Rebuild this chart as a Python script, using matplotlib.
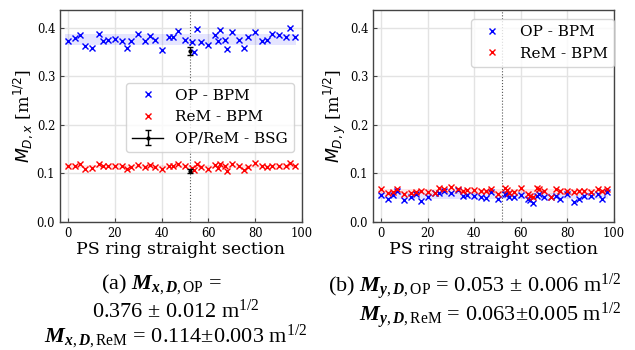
import matplotlib
matplotlib.use("Agg")
import matplotlib.pyplot as plt
import numpy as np

# BPM positions (straight section number)
sections = [0, 3, 5, 7, 10, 13, 15, 17, 20, 23, 25, 27, 30, 33, 35, 37, 40, 43, 45, 47,
            50, 53, 54, 55, 57, 60, 63, 64, 65, 67, 68, 70, 73, 75, 77, 80, 83, 85, 87,
            90, 93, 95, 97]

# horizontal dispersion invariant
op_x = [0.373, 0.379, 0.385, 0.362, 0.359, 0.388, 0.373, 0.376, 0.377, 0.373, 0.359,
        0.373, 0.387, 0.373, 0.384, 0.376, 0.355, 0.381, 0.381, 0.394, 0.376, 0.371,
        0.351, 0.397, 0.371, 0.364, 0.386, 0.373, 0.395, 0.376, 0.356, 0.391, 0.376,
        0.359, 0.381, 0.391, 0.374, 0.376, 0.388, 0.386, 0.381, 0.399, 0.382]
rem_x = [0.116, 0.116, 0.119, 0.110, 0.112, 0.119, 0.115, 0.115, 0.115, 0.116, 0.110,
         0.114, 0.117, 0.113, 0.117, 0.114, 0.109, 0.116, 0.116, 0.119, 0.115, 0.112,
         0.107, 0.120, 0.114, 0.110, 0.118, 0.112, 0.120, 0.116, 0.106, 0.119, 0.116,
         0.108, 0.114, 0.121, 0.115, 0.113, 0.116, 0.116, 0.115, 0.121, 0.116]

# vertical dispersion invariant
op_y = [0.055, 0.048, 0.055, 0.063, 0.045, 0.051, 0.057, 0.043, 0.051, 0.060, 0.060,
        0.063, 0.059, 0.066, 0.053, 0.055, 0.053, 0.052, 0.050, 0.061, 0.048, 0.058,
        0.057, 0.051, 0.052, 0.055, 0.048, 0.046, 0.040, 0.053, 0.057, 0.052, 0.052,
        0.054, 0.048, 0.058, 0.041, 0.048, 0.053, 0.053, 0.058, 0.048, 0.062]
rem_y = [0.067, 0.060, 0.061, 0.067, 0.058, 0.060, 0.061, 0.063, 0.061, 0.060, 0.070,
         0.068, 0.073, 0.069, 0.063, 0.065, 0.065, 0.063, 0.063, 0.067, 0.058, 0.070,
         0.066, 0.059, 0.062, 0.070, 0.058, 0.053, 0.051, 0.070, 0.067, 0.064, 0.051,
         0.067, 0.063, 0.063, 0.061, 0.063, 0.064, 0.061, 0.068, 0.063, 0.067]

# mean +- std bands
mean_x = {"OP": (0.376, 0.012), "ReM": (0.114, 0.003)}
mean_y = {"OP": (0.053, 0.006), "ReM": (0.063, 0.005)}

# BSG measurement
bsg_pos = 52
bsg_val = [0.3525, 0.106]
bsg_err = [0.0085, 0.004]

plt.rcParams["font.family"] = "DejaVu Serif"
plt.rcParams["mathtext.fontset"] = "dejavusans"
plt.rcParams["mathtext.rm"] = "Liberation Serif"
plt.rcParams["mathtext.it"] = "Liberation Serif:italic"
plt.rcParams["mathtext.bf"] = "Liberation Serif:italic:bold"

fig = plt.figure(figsize=(6.35, 3.5), dpi=100)
ax1 = fig.add_axes([60 / 635, 128 / 350, 242 / 635, 212 / 350])
ax2 = fig.add_axes([373 / 635, 128 / 350, 241 / 635, 212 / 350])

band_x = [-1.5, 97.5]


def style(ax, ylab):
    ax.set_xlim(-3.5, 100)
    ax.set_ylim(0, 0.437)
    ax.set_xticks([0, 20, 40, 60, 80, 100])
    ax.set_yticks([0.0, 0.1, 0.2, 0.3, 0.4])
    ax.grid(True, color="#e3e3e3", linewidth=1.0)
    ax.set_axisbelow(True)
    ax.tick_params(direction="in", labelsize=8.3, length=3, color="#444444")
    for s in ax.spines.values():
        s.set_color("#444444")
        s.set_linewidth(1.0)
    ax.set_xlabel("PS ring straight section", fontsize=12.5, labelpad=1)
    ax.set_ylabel(ylab, fontsize=12.5, labelpad=1)
    ax.axvline(bsg_pos, color="#555555", linestyle=":", linewidth=0.8, zorder=1)


# left: horizontal
ax1.fill_between(band_x, mean_x["OP"][0] - mean_x["OP"][1], mean_x["OP"][0] + mean_x["OP"][1],
                 color="blue", alpha=0.1, linewidth=0)
ax1.fill_between(band_x, mean_x["ReM"][0] - mean_x["ReM"][1], mean_x["ReM"][0] + mean_x["ReM"][1],
                 color="red", alpha=0.1, linewidth=0)
ax1.plot(sections, op_x, "x", color="blue", ms=4, mew=1, label="OP - BPM")
ax1.plot(sections, rem_x, "x", color="red", ms=4, mew=1, label="ReM - BPM")
for i in range(len(bsg_val)):
    ax1.errorbar([bsg_pos], [bsg_val[i]], yerr=[bsg_err[i]], marker=".", color="black", ms=4,
                 capsize=2, elinewidth=1, linewidth=1,
                 label="OP/ReM - BSG" if i == 0 else None, zorder=5)
style(ax1, r"$M_{D,x}$ [m$^{1/2}$]")
ax1.legend(loc="lower right", bbox_to_anchor=(0.967, 0.33), borderaxespad=0,
           fontsize=11, numpoints=1)

# right: vertical
ax2.fill_between(band_x, mean_y["OP"][0] - mean_y["OP"][1], mean_y["OP"][0] + mean_y["OP"][1],
                 color="blue", alpha=0.1, linewidth=0)
ax2.fill_between(band_x, mean_y["ReM"][0] - mean_y["ReM"][1], mean_y["ReM"][0] + mean_y["ReM"][1],
                 color="red", alpha=0.1, linewidth=0)
ax2.plot(sections, op_y, "x", color="blue", ms=4, mew=1, label="OP - BPM")
ax2.plot(sections, rem_y, "x", color="red", ms=4, mew=1, label="ReM - BPM")
style(ax2, r"$M_{D,y}$ [m$^{1/2}$]")
ax2.legend(loc="upper right", bbox_to_anchor=(1.0, 0.958), borderaxespad=0,
           fontsize=11, numpoints=1)

# captions
cap = dict(fontsize=16, family="Liberation Serif", math_fontfamily="custom",
           ha="center", va="baseline")
fig.text(162 / 635, 1 - 289 / 350, r"(a) $\mathbf{M}_{\mathbf{x},\mathbf{D},\mathrm{OP}}$ =", **cap)
fig.text(176 / 635, 1 - 318 / 350, r"0.376 $\pm$ 0.012 m$^{\mathrm{1/2}}$", **cap)
fig.text(176 / 635, 1 - 342 / 350,
         r"$\mathbf{M}_{\mathbf{x},\mathbf{D},\mathrm{ReM}}$ = 0.114$\pm$0.003 m$^{\mathrm{1/2}}$", **cap)
fig.text(475 / 635, 1 - 292 / 350,
         r"(b) $\mathbf{M}_{\mathbf{y},\mathbf{D},\mathrm{OP}}$ = 0.053 $\pm$ 0.006 m$^{\mathrm{1/2}}$", **cap)
fig.text(490 / 635, 1 - 321 / 350,
         r"$\mathbf{M}_{\mathbf{y},\mathbf{D},\mathrm{ReM}}$ = 0.063$\pm$0.005 m$^{\mathrm{1/2}}$", **cap)

fig.savefig("out.png", dpi=100)
